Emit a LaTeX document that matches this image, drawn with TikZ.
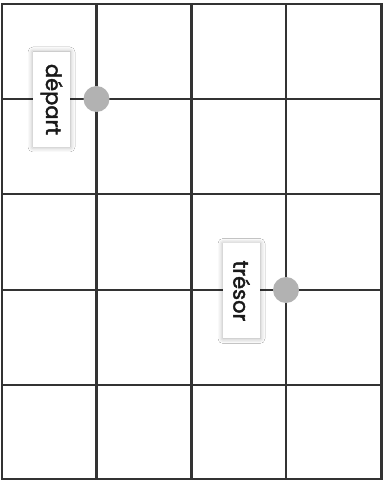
\documentclass[tikz,border=0pt]{standalone}
\usepackage{fontspec}
\setmainfont{Poppins}
\newfontfamily\tagfont{Poppins}[FakeBold=2]
\usetikzlibrary{shadows.blur}
\tikzset{
  gridline/.style={draw=black!80, line width=2.8pt, line cap=rect},
  spot/.style={circle, fill=black!30, minimum size=26pt, inner sep=0pt},
  tag/.style={fill=white, rotate=-90, minimum width=95pt, minimum height=37pt, inner sep=0pt,
    font=\tagfont\fontsize{21}{22}\selectfont, text=black!90,
    blur shadow={shadow xshift=0pt, shadow yshift=0pt, shadow blur radius=5pt, shadow opacity=35}}
}
\begin{document}
\begin{tikzpicture}[x=1pt,y=1pt]
\useasboundingbox (0,0) rectangle (384,482);
\fill[white] (0,0) rectangle (384,482);
% vertical lines
\foreach \x in {2,96.5,191.5,286,381.5} \draw[gridline] (\x,478) -- (\x,3);
% horizontal lines
\foreach \y in {4,99,194,290,385,479} \draw[gridline] (2,482-\y) -- (381.5,482-\y);
\node[spot] (d) at (96.5,482-99) {};
\node[spot] (t) at (286,482-290) {};
\node[tag] (ld) at (51.5,482-99.5) {départ};
\node[tag] (lt) at (241.5,482-291) {trésor};
\end{tikzpicture}
\end{document}
